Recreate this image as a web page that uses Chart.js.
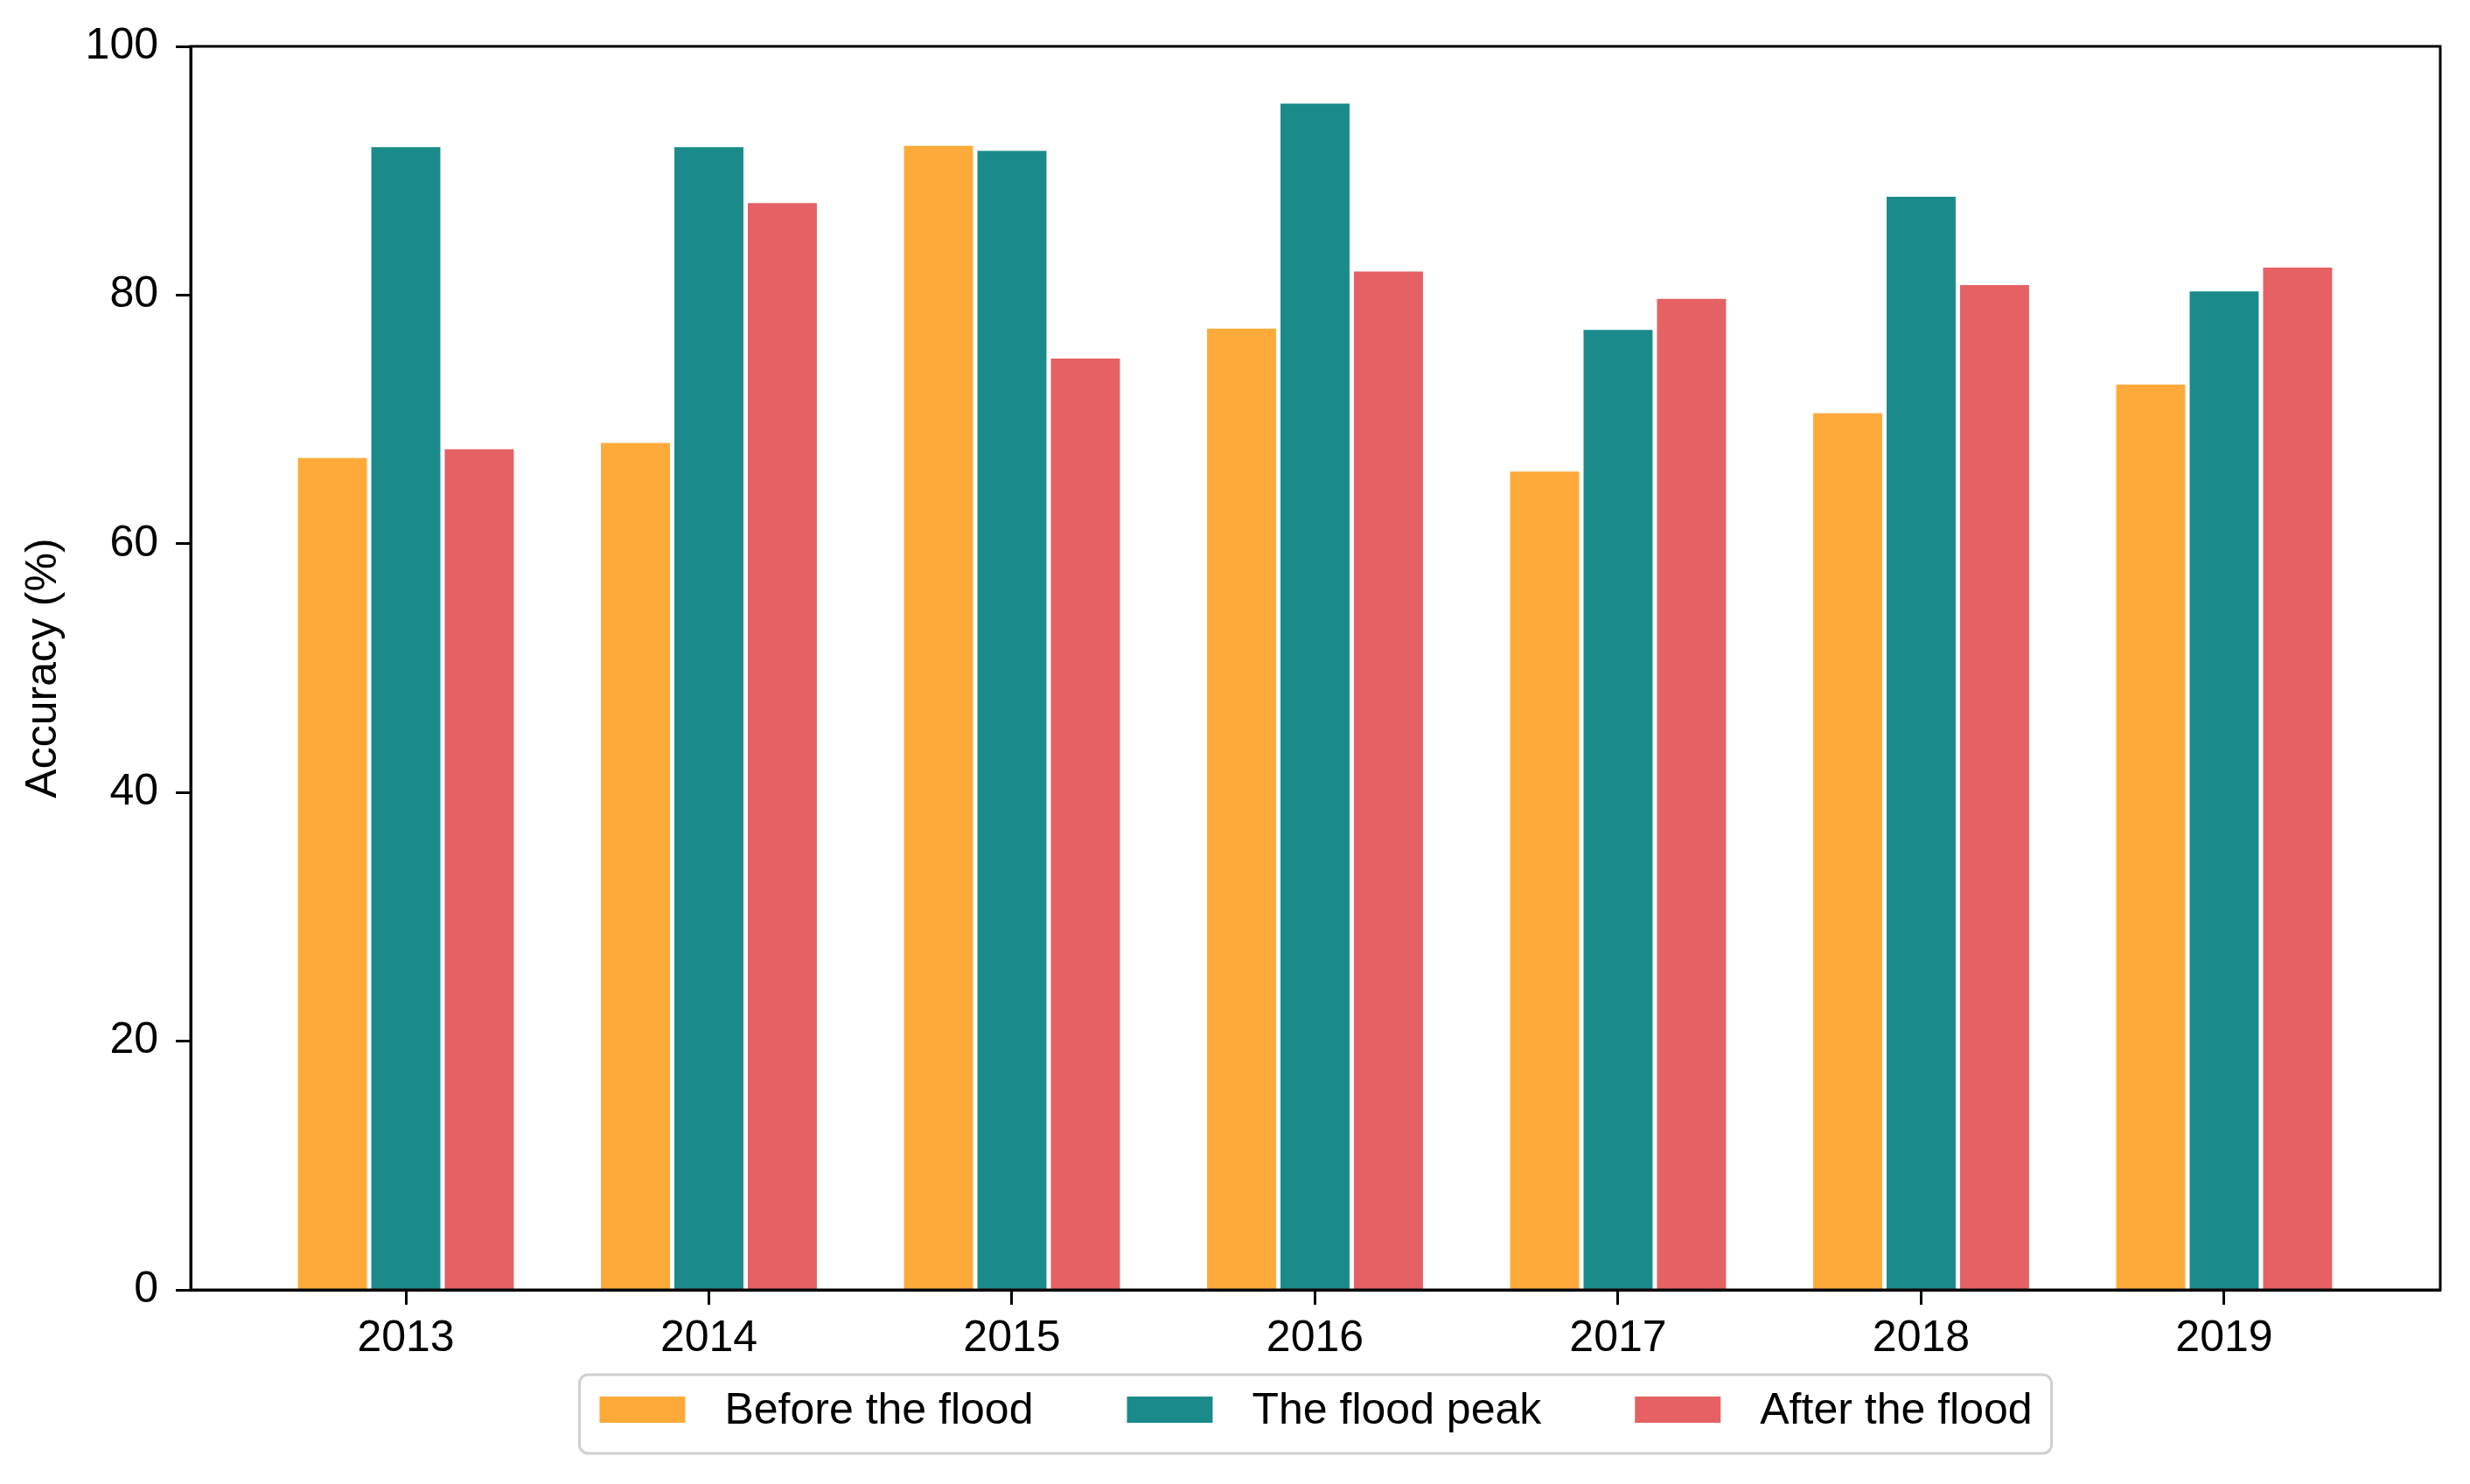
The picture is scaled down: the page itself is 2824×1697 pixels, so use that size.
<!DOCTYPE html>
<html>
<head>
<meta charset="utf-8">
<script src="https://cdn.jsdelivr.net/npm/chart.js@4/dist/chart.umd.min.js"></script>
<style>
  html, body { margin: 0; padding: 0; background: #fff; }
  #wrap { width: 2824px; height: 1697px; position: relative; }
</style>
</head>
<body>
<div id="wrap"><canvas id="barChart"></canvas></div>
<script>
// Accuracy per year
const years = ["2013", "2014", "2015", "2016", "2017", "2018", "2019"];
const beforeFlood = [66.9, 68.1, 92.0, 77.3, 65.8, 70.5, 72.8];
const floodPeak = [91.9, 91.9, 91.6, 95.4, 77.2, 87.9, 80.3];
const afterFlood = [67.6, 87.4, 74.9, 81.9, 79.7, 80.8, 82.2];
const yTicks = [0, 20, 40, 60, 80, 100];

const seriesNames = ["Before the flood", "The flood peak", "After the flood"];
const seriesColors = ["#FEAA3A", "#1A8B8A", "#E56163"];

const FONT = '"Liberation Sans", Arial, Helvetica, sans-serif';
const FONT_SIZE = 50;

function toPoints(values) {
  return values.map((v, i) => ({ x: i, y: v }));
}

// box around the plot (top and right sides)
const frame = {
  id: "frame",
  afterDraw(chart) {
    const { ctx, chartArea: a } = chart;
    ctx.save();
    ctx.strokeStyle = "#000";
    ctx.lineWidth = 3;
    ctx.strokeRect(a.left, a.top, a.right - a.left, a.bottom - a.top);
    ctx.restore();
  },
};

// matplotlib-like framed legend below the axis
const boxLegend = {
  id: "boxLegend",
  afterDraw(chart) {
    const { ctx, chartArea: a } = chart;
    const sw = 98, sh = 30, gapText = 45, gapItem = 107, padL = 23, padR = 22;
    ctx.save();
    ctx.font = FONT_SIZE + "px " + FONT;
    const items = chart.data.datasets.map((ds) => ({
      text: ds.label,
      color: ds.backgroundColor,
      w: ctx.measureText(ds.label).width,
    }));
    let total = padL + padR + gapItem * (items.length - 1);
    items.forEach((it) => (total += sw + gapText + it.w));
    const boxTop = a.bottom + 97;
    const boxH = 90;
    const left = (a.left + a.right) / 2 - total / 2;

    ctx.beginPath();
    ctx.roundRect(left, boxTop, total, boxH, 10);
    ctx.fillStyle = "#fff";
    ctx.fill();
    ctx.strokeStyle = "#d0d0d0";
    ctx.lineWidth = 3;
    ctx.stroke();

    const cy = boxTop + 40;
    let x = left + padL;
    ctx.textBaseline = "middle";
    ctx.textAlign = "left";
    items.forEach((it) => {
      ctx.fillStyle = it.color;
      ctx.fillRect(x, cy - sh / 2, sw, sh);
      ctx.fillStyle = "#000";
      ctx.fillText(it.text, x + sw + gapText, cy + 2);
      x += sw + gapText + it.w + gapItem;
    });
    ctx.restore();
  },
};

const ctx = document.getElementById("barChart").getContext("2d");
new Chart(ctx, {
  type: "bar",
  data: {
    datasets: [
      { label: seriesNames[0], data: toPoints(beforeFlood), backgroundColor: seriesColors[0] },
      { label: seriesNames[1], data: toPoints(floodPeak), backgroundColor: seriesColors[1] },
      { label: seriesNames[2], data: toPoints(afterFlood), backgroundColor: seriesColors[2] },
    ],
  },
  options: {
    responsive: true,
    maintainAspectRatio: false,
    animation: false,
    devicePixelRatio: 1,
    layout: { padding: { top: 53, right: 34, bottom: 0, left: 0 } },
    datasets: {
      bar: { categoryPercentage: 0.727, barPercentage: 0.94, borderWidth: 0 },
    },
    plugins: {
      legend: { display: false },
      tooltip: { enabled: false },
    },
    scales: {
      x: {
        type: "linear",
        min: -0.71,
        max: 6.713,
        offset: false,
        afterBuildTicks: (scale) => {
          scale.ticks = years.map((_, i) => ({ value: i }));
        },
        afterFit: (scale) => {
          scale.height = 222;
        },
        ticks: {
          callback: (v) => years[v],
          font: { family: FONT, size: FONT_SIZE },
          color: "#000",
          padding: 9,
          maxRotation: 0,
        },
        grid: { offset: false, drawOnChartArea: false, tickLength: 17, tickWidth: 3, tickColor: "#000" },
        border: { color: "#000", width: 3 },
      },
      y: {
        min: 0,
        max: 100,
        afterBuildTicks: (scale) => {
          scale.ticks = yTicks.map((v) => ({ value: v }));
        },
        afterFit: (scale) => {
          scale.width = 218;
        },
        ticks: {
          font: { family: FONT, size: FONT_SIZE },
          color: "#000",
          padding: 20,
        },
        grid: { drawOnChartArea: false, tickLength: 17, tickWidth: 3, tickColor: "#000" },
        border: { color: "#000", width: 3 },
        title: {
          display: true,
          text: "Accuracy (%)",
          font: { family: FONT, size: FONT_SIZE, lineHeight: 1.2 },
          color: "#000",
          padding: { top: 20, bottom: 0 },
        },
      },
    },
  },
  plugins: [frame, boxLegend],
});
</script>
</body>
</html>
